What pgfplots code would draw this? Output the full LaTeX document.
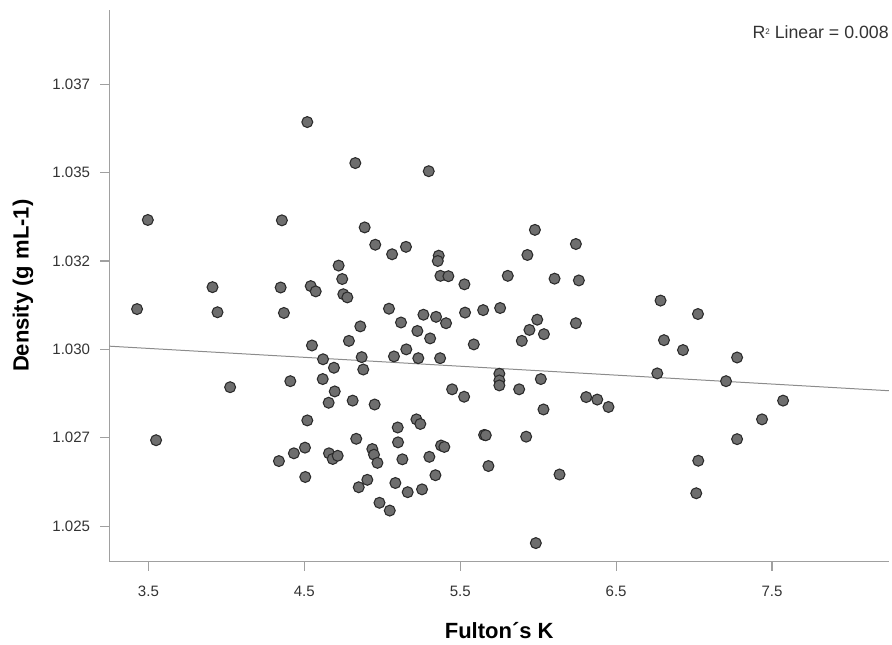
\documentclass[border=0pt]{standalone}
\usepackage{pgfplots}
\pgfplotsset{compat=1.18}
\usepackage{pgfplotstable}
\usepackage{fontspec}
\setmainfont{Liberation Sans}
\definecolor{markfill}{HTML}{6E6E6E}
\definecolor{markdraw}{HTML}{2B2B2B}
\definecolor{axisgray}{HTML}{A0A0A0}
\definecolor{linegray}{HTML}{8C8C8C}
\definecolor{tickgray}{HTML}{333333}

\pgfplotstableread{
x y
4.519 1.03643
4.827 1.03527
5.298 1.03504
3.496 1.03366
4.356 1.03365
4.887 1.03345
4.955 1.03296
4.720 1.03237
4.743 1.03199
3.911 1.03176
4.348 1.03175
4.541 1.03179
4.573 1.03164
4.750 1.03156
4.776 1.03147
3.427 1.03114
3.943 1.03105
4.369 1.03103
4.859 1.03065
5.063 1.03269
5.152 1.03290
5.362 1.03265
5.356 1.03250
5.979 1.03338
6.242 1.03298
5.931 1.03267
5.373 1.03208
5.424 1.03207
5.527 1.03184
5.805 1.03208
6.105 1.03200
6.261 1.03195
5.043 1.03115
5.120 1.03076
5.264 1.03098
5.345 1.03092
5.409 1.03074
5.531 1.03104
5.647 1.03111
5.756 1.03117
5.994 1.03084
6.242 1.03074
5.225 1.03052
5.944 1.03055
6.037 1.03043
6.785 1.03138
7.025 1.03100
4.549 1.03011
4.786 1.03024
4.620 1.02972
4.868 1.02978
4.690 1.02948
4.878 1.02943
4.024 1.02893
4.410 1.02910
4.618 1.02916
4.695 1.02881
4.656 1.02849
4.810 1.02855
4.951 1.02844
4.519 1.02799
3.549 1.02743
4.833 1.02747
4.504 1.02722
4.433 1.02706
4.337 1.02684
4.658 1.02706
4.682 1.02690
4.714 1.02699
4.936 1.02718
4.947 1.02702
4.969 1.02679
4.506 1.02639
4.904 1.02631
4.849 1.02610
4.982 1.02566
5.307 1.03031
5.895 1.03024
5.587 1.03014
5.154 1.03000
5.075 1.02980
5.231 1.02975
5.371 1.02975
5.751 1.02931
5.751 1.02912
5.751 1.02898
6.017 1.02916
5.878 1.02887
5.448 1.02887
5.525 1.02866
6.308 1.02865
6.379 1.02858
6.451 1.02837
6.034 1.02830
5.219 1.02802
5.244 1.02789
5.099 1.02779
5.101 1.02737
5.653 1.02758
5.664 1.02757
5.923 1.02753
5.129 1.02689
5.302 1.02696
5.377 1.02728
5.398 1.02724
5.681 1.02670
5.341 1.02644
6.137 1.02646
5.084 1.02622
5.163 1.02596
5.255 1.02604
5.048 1.02544
5.985 1.02452
6.807 1.03026
6.929 1.02998
7.276 1.02977
6.764 1.02932
7.205 1.02910
7.571 1.02855
7.436 1.02802
7.276 1.02746
7.027 1.02685
7.014 1.02593
}\pointdata

\begin{document}
\begin{tikzpicture}
\path[use as bounding box] (0pt,0pt) rectangle (669pt,483pt);
\begin{axis}[
  at={(82.1pt,61.9pt)}, anchor=south west,
  width=584.6pt, height=413.6pt, scale only axis,
  xmin=3.25, xmax=8.25, ymin=1.024, ymax=1.0396,
  axis x line*=bottom, axis y line*=left,
  axis line style={draw=axisgray, line width=1.1pt, -},
  x axis line style={-}, y axis line style={-},
  tick align=outside,
  major tick length=7pt,
  tick style={draw=axisgray, line width=0.8pt},
  xtick={3.5,4.5,5.5,6.5,7.5},
  xticklabels={3.5,4.5,5.5,6.5,7.5},
  ytick={1.025,1.0275,1.030,1.0325,1.035,1.0375},
  yticklabels={1.025,1.027,1.030,1.032,1.035,1.037},
  scaled y ticks=false, scaled x ticks=false,
  /pgf/number format/assume math mode=true,
  ticklabel style={font=\fontsize{11.3}{13}\selectfont, text=tickgray},
  xticklabel style={yshift=-8pt},
  yticklabel style={xshift=-4pt},
  xlabel={Fulton´s K},
  ylabel={Density (g mL-1)},
  label style={font=\bfseries\fontsize{16.5}{19}\selectfont, text=black},
  xlabel style={at={(axis description cs:0.5,-0.1261)}, anchor=center},
  ylabel style={at={(axis description cs:-0.1109,0.5)}, anchor=center},
  clip=false,
]
\addplot[draw=linegray, line width=0.75pt, no marks] coordinates {(3.25,1.03009) (8.25,1.02883)};
\addplot[only marks, mark=*, mark size=4.1pt,
  mark options={fill=markfill, draw=markdraw, line width=0.8pt}] table[x=x,y=y] {\pointdata};
\end{axis}
\node[anchor=east, inner sep=0pt, font=\fontsize{13.3}{15}\selectfont, text=tickgray] at (666.7pt,459pt) {R\raisebox{0.45ex}{\fontsize{6}{7}\selectfont 2} Linear = 0.008};
\end{tikzpicture}
\end{document}
